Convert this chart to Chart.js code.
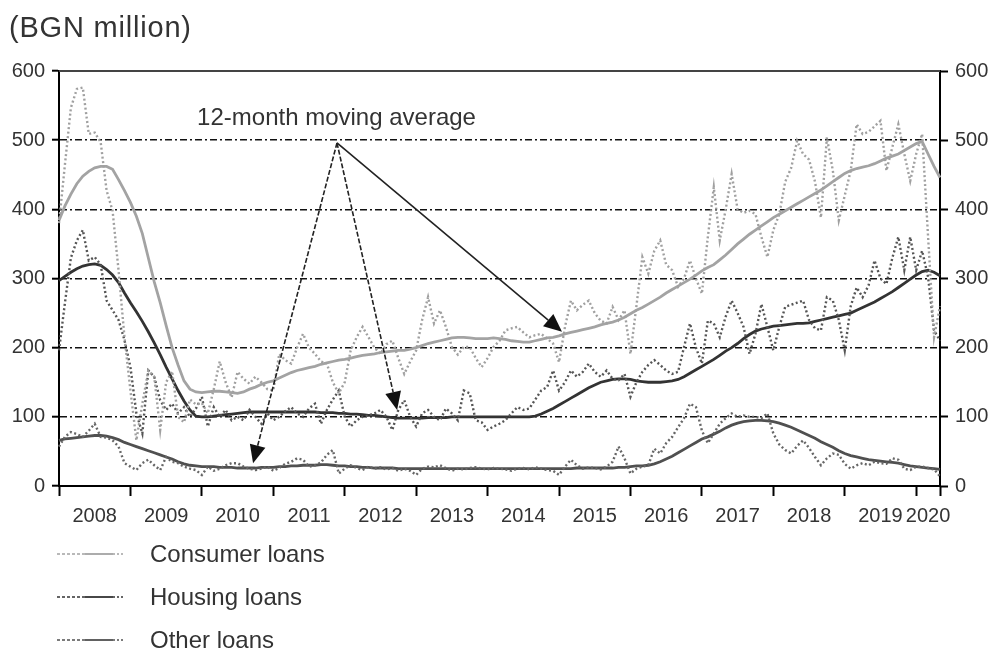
<!DOCTYPE html>
<html>
<head>
<meta charset="utf-8">
<title>Loans, BGN million</title>
<script src="https://cdn.jsdelivr.net/npm/chart.js@4.4.1/dist/chart.umd.min.js"></script>
<style>
  body { margin: 0; background: #fff; }
  #wrap { position: relative; width: 993px; height: 651px; font-family: "Liberation Sans", Arial, sans-serif; color: #333; }
  #wrap canvas { position: absolute; left: 0; top: 0; }
  .unit { position: absolute; left: 9px; top: 11px; font-size: 29px; letter-spacing: 0.8px; }
  .legend { position: absolute; left: 57px; top: 532px; }
  .legend .row { height: 43px; display: flex; align-items: center; font-size: 24px; }
  .legend svg { width: 68px; height: 6px; margin-right: 25px; }
</style>
</head>
<body>
<div id="wrap">
  <canvas id="loansChart" width="993" height="651"></canvas>
  <div class="unit">(BGN million)</div>
  <div class="legend" id="legend"></div>
</div>
<script>
// monthly data, Jan 2008 - May 2020
const years = ["2008", "2009", "2010", "2011", "2012", "2013", "2014", "2015", "2016", "2017", "2018", "2019", "2020"];

const consumerRaw = [
  380, 465, 547, 574, 576, 509, 511, 497, 427, 398, 312, 215,
  138, 66, 119, 167, 158, 81, 150, 166, 100, 92, 125, 118,
  120, 105, 140, 180, 150, 128, 165, 155, 148, 158, 150, 140,
  138, 191, 182, 177, 200, 220, 200, 191, 180, 177, 150, 134,
  150, 196, 215, 230, 215, 200, 191, 205, 210, 185, 162, 180,
  196, 240, 273, 235, 254, 230, 201, 190, 201, 201, 185, 172,
  185, 201, 210, 225, 228, 230, 222, 215, 218, 220, 213, 206,
  179, 230, 268, 254, 262, 268, 250, 239, 235, 259, 240, 254,
  191, 260, 331, 307, 340, 355, 320, 312, 288, 300, 326, 300,
  278, 360, 432, 355, 400, 451, 400, 395, 398, 393, 360, 331,
  370, 393, 440, 460, 499, 480, 472, 440, 388, 504, 456, 384,
  420, 456, 523, 509, 512, 520, 528, 456, 490, 523, 480, 441,
  480, 509, 360, 215, 260
];
const consumerAvg = [
  384, 405, 422, 437, 448, 455, 460, 462, 462, 458, 443, 427,
  410, 390, 365, 330, 295, 265, 232, 200, 175, 152, 140, 136,
  135, 136, 137, 137, 136, 135, 134, 136, 140, 143, 147, 150,
  152, 156, 160, 164, 167, 169, 171, 173, 176, 178, 180, 182,
  183, 185, 187, 189, 190, 191, 193, 194, 195, 196, 196, 198,
  200, 203, 206, 208, 210, 212, 214, 215, 215, 214, 213, 213,
  213, 214, 213, 212, 210, 209, 208, 208, 210, 212, 214, 215,
  217, 220, 222, 224, 226, 228, 230, 233, 235, 237, 240, 244,
  249, 254, 258, 263, 268, 273, 279, 284, 289, 294, 299, 305,
  311, 316, 320, 327, 334, 342, 350, 357, 364, 370, 376, 382,
  388, 393, 398, 403, 408, 413, 418, 423, 428, 434, 440, 446,
  452, 456, 459, 461, 463, 466, 470, 474, 477, 480, 485, 490,
  495, 498, 480, 462, 446
];
const housingRaw = [
  196, 265, 330, 355, 370, 326, 331, 320, 268, 254, 240, 211,
  172, 105, 76, 167, 158, 124, 110, 119, 105, 114, 100, 112,
  129, 86, 114, 100, 110, 95, 100, 95, 110, 100, 90, 105,
  95, 100, 108, 114, 105, 100, 112, 119, 90, 110, 125, 138,
  100, 86, 95, 100, 102, 105, 110, 100, 81, 110, 124, 100,
  86, 105, 110, 100, 95, 112, 105, 95, 138, 134, 95, 92,
  81, 86, 90, 95, 105, 114, 110, 112, 125, 138, 143, 167,
  138, 150, 167, 158, 165, 177, 165, 158, 167, 155, 153, 162,
  129, 150, 165, 175, 182, 175, 167, 162, 165, 201, 235, 200,
  177, 239, 235, 215, 245, 268, 250, 230, 191, 220, 263, 230,
  196, 230, 259, 262, 265, 268, 240, 228, 225, 273, 268, 240,
  196, 260, 287, 273, 290, 326, 300, 292, 330, 360, 312, 360,
  312, 340, 302, 225, 210
];
const housingAvg = [
  297, 303, 309, 314, 318, 320, 321, 319, 313, 305, 294, 279,
  265, 252, 238, 223, 207, 190, 172, 155, 138, 123, 110, 101,
  100, 100, 101, 102, 103, 104, 105, 106, 107, 107, 107, 107,
  107, 107, 107, 107, 107, 107, 107, 107, 106, 106, 106, 105,
  105, 104, 104, 103, 102, 102, 101, 100, 99, 98, 98, 98,
  98, 98, 99, 99, 99, 99, 100, 100, 100, 100, 100, 100,
  100, 100, 100, 100, 100, 100, 100, 100, 101, 104, 108, 112,
  117, 122, 127, 132, 137, 142, 146, 150, 152, 154, 155, 155,
  154, 152, 151, 150, 150, 150, 151, 152, 154, 158, 163, 168,
  173, 178, 183, 189, 195, 200, 206, 213, 219, 224, 227, 229,
  231, 232, 233, 234, 235, 235, 236, 238, 240, 242, 244, 246,
  248, 250, 254, 258, 262, 266, 271, 276, 281, 287, 293, 299,
  305, 310, 312, 309, 304
];
const otherRaw = [
  57, 71, 78, 75, 71, 80, 90, 71, 70, 66, 57, 33,
  28, 23, 33, 38, 30, 23, 42, 35, 33, 28, 25, 23,
  16, 28, 22, 25, 30, 33, 33, 28, 25, 23, 25, 28,
  22, 26, 32, 35, 40, 38, 28, 30, 34, 45, 52, 18,
  25, 30, 26, 23, 28, 25, 27, 24, 26, 22, 25, 22,
  16, 25, 28, 27, 30, 26, 22, 25, 24, 26, 27, 25,
  24, 26, 25, 24, 22, 25, 26, 24, 27, 25, 23, 22,
  16, 28, 38, 30, 25, 27, 26, 24, 28, 35, 57, 40,
  18, 25, 28, 30, 54, 47, 62, 71, 85, 98, 119, 114,
  80, 62, 76, 90, 98, 105, 100, 102, 100, 100, 98, 105,
  76, 60, 52, 47, 58, 66, 55, 42, 30, 40, 47, 45,
  32, 25, 30, 33, 30, 35, 33, 32, 40, 38, 25, 23,
  28, 28, 26, 24, 14
];
const otherAvg = [
  66, 68, 69, 70, 71, 72, 73, 73, 72, 70, 67, 63,
  60, 57, 54, 51, 48, 45, 42, 39, 35, 32, 30, 29,
  28, 28, 28, 27, 27, 27, 26, 26, 26, 26, 27, 27,
  27, 28, 28, 29, 29, 30, 30, 30, 31, 31, 30, 29,
  29, 28, 28, 27, 27, 26, 26, 26, 26, 25, 25, 25,
  25, 25, 25, 25, 25, 25, 25, 25, 25, 25, 25, 25,
  25, 25, 25, 25, 25, 25, 25, 25, 25, 25, 25, 25,
  25, 25, 25, 26, 26, 26, 26, 26, 26, 26, 27, 27,
  28, 29, 29, 30, 32, 35, 39, 43, 48, 53, 58, 63,
  68, 71, 75, 79, 84, 88, 91, 93, 94, 95, 95, 94,
  93, 91, 88, 85, 81, 77, 73, 69, 64, 60, 56, 51,
  47, 44, 42, 40, 38, 37, 36, 35, 34, 33, 31, 29,
  28, 27, 26, 25, 24
];
const yTicks = [0, 100, 200, 300, 400, 500, 600];

// annotation: text and arrows, in data units (month index, BGN million)
const noteText = "12-month moving average";
const notePos = [23.2, 531];
const arrowFrom = [46.7, 496];
const arrowTips = [[32.6, 33], [56.8, 110], [84.5, 223]];

document.addEventListener("DOMContentLoaded", function () {
  const FONT = '"Liberation Sans", Arial, sans-serif';
  Chart.defaults.font.family = FONT;
  Chart.defaults.font.size = 20;
  Chart.defaults.color = "#333";

  // month labels and year boundaries
  const months = [];
  const yearBounds = [];
  const yearMid = {};
  years.forEach((yr, i) => {
    const start = i * 12;
    if (start >= consumerRaw.length) return;
    yearBounds.push(start);
    const end = Math.min(start + 12, consumerRaw.length - 1);
    yearMid[(start + end) / 2] = yr;
    for (let m = 1; m <= 12 && months.length < consumerRaw.length; m++) {
      months.push(yr + "-" + String(m).padStart(2, "0"));
    }
  });
  yearBounds.push(consumerRaw.length - 1);
  const xTickValues = yearBounds
    .concat(Object.keys(yearMid).map(Number))
    .sort((a, b) => a - b);

  function line(label, data, color, width, dash) {
    return {
      label: label,
      data: data,
      borderColor: color,
      borderWidth: width,
      borderDash: dash || [],
      pointRadius: 0,
      tension: 0,
      fill: false,
    };
  }

  const series = [
    { name: "Consumer loans", raw: consumerRaw, avg: consumerAvg, rawColor: "#a0a0a0", avgColor: "#a3a3a3" },
    { name: "Housing loans", raw: housingRaw, avg: housingAvg, rawColor: "#555", avgColor: "#333" },
    { name: "Other loans", raw: otherRaw, avg: otherAvg, rawColor: "#666", avgColor: "#505050" },
  ];

  const datasets = [];
  series.forEach((s) => {
    datasets.push(line(s.name, s.raw, s.rawColor, 2.4, [2, 2.5]));
    datasets.push(line(s.name + " (12-month moving average)", s.avg, s.avgColor, 2.8));
  });

  const notePlugin = {
    id: "notePlugin",
    afterDatasetsDraw(chart) {
      const { ctx, chartArea } = chart;
      const x = chart.scales.x;
      const y = chart.scales.y;
      ctx.save();
      // top frame
      ctx.strokeStyle = "#444";
      ctx.lineWidth = 2;
      ctx.beginPath();
      ctx.moveTo(chartArea.left, chartArea.top);
      ctx.lineTo(chartArea.right, chartArea.top);
      ctx.stroke();

      ctx.fillStyle = "#333";
      ctx.font = "24px " + FONT;
      ctx.textBaseline = "middle";
      ctx.fillText(noteText, x.getPixelForValue(notePos[0]), y.getPixelForValue(notePos[1]));

      const ax = x.getPixelForValue(arrowFrom[0]);
      const ay = y.getPixelForValue(arrowFrom[1]);
      arrowTips.forEach((t, i) => {
        const tx = x.getPixelForValue(t[0]);
        const ty = y.getPixelForValue(t[1]);
        const ang = Math.atan2(ty - ay, tx - ax);
        const head = 18, half = 8;
        const bx = tx - head * Math.cos(ang);
        const by = ty - head * Math.sin(ang);
        ctx.strokeStyle = "#222";
        ctx.lineWidth = 1.6;
        ctx.setLineDash(i < 2 ? [5, 2] : []);
        ctx.beginPath();
        ctx.moveTo(ax, ay);
        ctx.lineTo(bx, by);
        ctx.stroke();
        ctx.setLineDash([]);
        ctx.fillStyle = "#111";
        ctx.beginPath();
        ctx.moveTo(tx, ty);
        ctx.lineTo(bx + half * Math.sin(ang), by - half * Math.cos(ang));
        ctx.lineTo(bx - half * Math.sin(ang), by + half * Math.cos(ang));
        ctx.closePath();
        ctx.fill();
      });
      ctx.restore();
    },
  };

  const yGrid = {
    color: (c) => (c.tick && (c.tick.value === 0 || c.tick.value === 600) ? "rgba(0,0,0,0)" : "#111"),
    lineWidth: 1.4,
    tickColor: "#000",
    tickLength: 7,
    tickWidth: 2,
  };

  new Chart(document.getElementById("loansChart"), {
    type: "line",
    data: { labels: months, datasets: datasets },
    plugins: [notePlugin],
    options: {
      responsive: false,
      animation: false,
      events: [],
      layout: { padding: { top: 71, left: 0, right: 0, bottom: 0 } },
      plugins: { legend: { display: false }, tooltip: { enabled: false } },
      scales: {
        x: {
          type: "category",
          afterBuildTicks: (scale) => {
            scale.ticks = xTickValues.map((v) => ({ value: v }));
          },
          afterFit: (scale) => { scale.height = 165; },
          ticks: {
            autoSkip: false,
            maxRotation: 0,
            padding: 8,
            callback: (v) => yearMid[v] || "",
          },
          grid: {
            drawOnChartArea: false,
            tickLength: 10,
            tickWidth: 2,
            tickColor: (c) => (c.tick && yearBounds.includes(c.tick.value) ? "#000" : "rgba(0,0,0,0)"),
          },
          border: { color: "#000", width: 2 },
        },
        y: {
          position: "left",
          min: 0,
          max: 600,
          afterBuildTicks: (scale) => { scale.ticks = yTicks.map((v) => ({ value: v })); },
          afterFit: (scale) => { scale.width = 59; },
          ticks: { padding: 7 },
          grid: yGrid,
          border: { color: "#000", width: 2, dash: [7, 3, 2, 3] },
        },
        y2: {
          position: "right",
          min: 0,
          max: 600,
          afterBuildTicks: (scale) => { scale.ticks = yTicks.map((v) => ({ value: v })); },
          afterFit: (scale) => { scale.width = 53; },
          ticks: { padding: 7 },
          grid: { drawOnChartArea: false, tickColor: "#000", tickLength: 8, tickWidth: 2 },
          border: { color: "#000", width: 2 },
        },
      },
    },
  });

  // legend: dotted = monthly, solid = moving average
  const legend = document.getElementById("legend");
  series.forEach((s) => {
    const row = document.createElement("div");
    row.className = "row";
    const c = s.avgColor;
    row.innerHTML = `
      <svg viewBox="0 0 68 6">
        <line x1="0" y1="3" x2="28" y2="3" stroke="${c}" stroke-width="1.6" stroke-dasharray="3 2"/>
        <line x1="28" y1="3" x2="56" y2="3" stroke="${c}" stroke-width="1.8"/>
        <line x1="56" y1="3" x2="68" y2="3" stroke="${c}" stroke-width="1.6" stroke-dasharray="2 2"/>
      </svg><span>${s.name}</span>`;
    legend.appendChild(row);
  });
});
</script>
</body>
</html>
